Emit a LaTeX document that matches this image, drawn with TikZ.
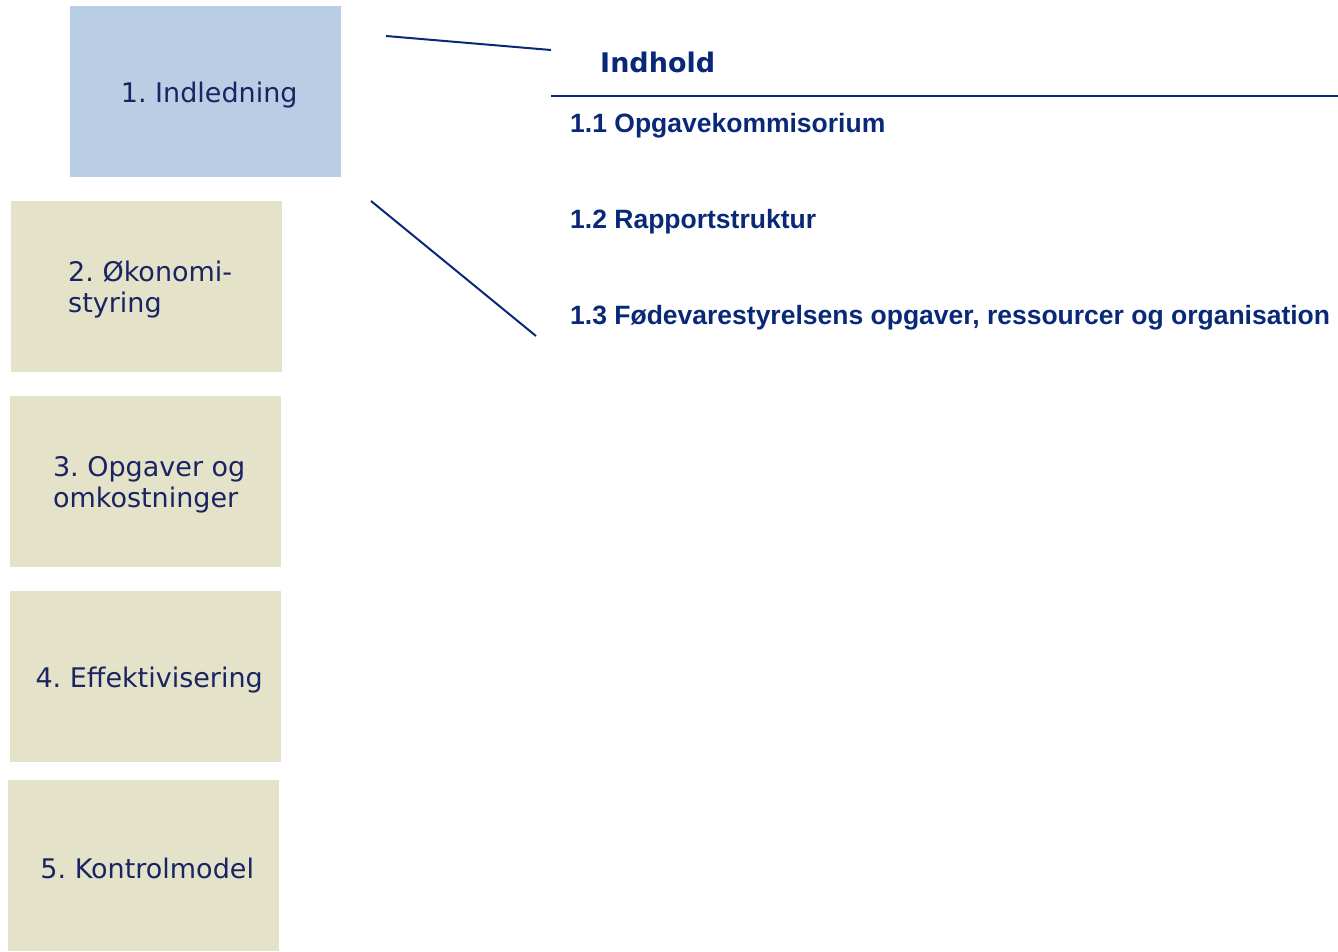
\documentclass[tikz,border=0pt]{standalone}
\usepackage{fontspec}
\newfontfamily\boxfont{DejaVu Sans}
\newfontfamily\headfont{DejaVu Sans}
\newfontfamily\listfont{Liberation Sans}
\definecolor{chapblue}{HTML}{B9CDE5}
\definecolor{chapsand}{HTML}{E4E3C9}
\definecolor{chaptext}{HTML}{1A2462}
\definecolor{navy}{HTML}{0A2878}
\frenchspacing
\begin{document}
\begin{tikzpicture}[x=1pt,y=-1pt,
  chapter/.style={minimum width=271pt,minimum height=171pt,inner sep=0pt,
    anchor=north west},
  chaplabel/.style={inner sep=0pt,text=chaptext,align=left,
    xshift=3.5pt,yshift=-3pt,
    font=\boxfont\fontsize{27}{31}\selectfont},
  current/.style={chapter,fill=chapblue},
  other/.style={chapter,fill=chapsand},
  heading/.style={inner sep=0pt,anchor=base west,text=navy,
    font=\headfont\bfseries\fontsize{27}{32}\selectfont},
  entry/.style={inner sep=0pt,anchor=base west,text=navy,
    font=\listfont\bfseries\fontsize{26.5}{31}\selectfont},
  rule/.style={draw=navy,line width=2pt}]
\useasboundingbox (0,0) rectangle (1338,951);

% chapter boxes
\node[current] (c1) at (70,6)   {};
\node[other]   (c2) at (11,201) {};
\node[other]   (c3) at (10,396) {};
\node[other]   (c4) at (10,591) {};
\node[other]   (c5) at (8,780)  {};
\node[chaplabel] (t1) at (c1.center) {1. Indledning};
\node[chaplabel] (t2) at (c2.center) {2. Økonomi-\\styring};
\node[chaplabel] (t3) at (c3.center) {3. Opgaver og\\omkostninger};
\node[chaplabel] (t4) at (c4.center) {4. Effektivisering};
\node[chaplabel] (t5) at (c5.center) {5. Kontrolmodel};

% table of contents for chapter 1
\node[heading] (toc) at (600,72)  {Indhold};
\node[entry]   (s1)  at (570,132) {1.1 Opgavekommisorium};
\node[entry]   (s2)  at (570,228) {1.2 Rapportstruktur};
\node[entry]   (s3)  at (570,324) {1.3 Fødevarestyrelsens opgaver, ressourcer og organisation};

% zoom lines and heading rule
\coordinate (za) at (386,36);
\coordinate (zb) at (551,50);
\coordinate (zc) at (371,201);
\coordinate (zd) at (536,336);
\coordinate (ra) at (551,96);
\coordinate (rb) at (1338,96);
\draw[rule] (za) -- (zb);
\draw[rule] (zc) -- (zd);
\draw[rule,line width=2.5pt] (ra) -- (rb);
\end{tikzpicture}
\end{document}
